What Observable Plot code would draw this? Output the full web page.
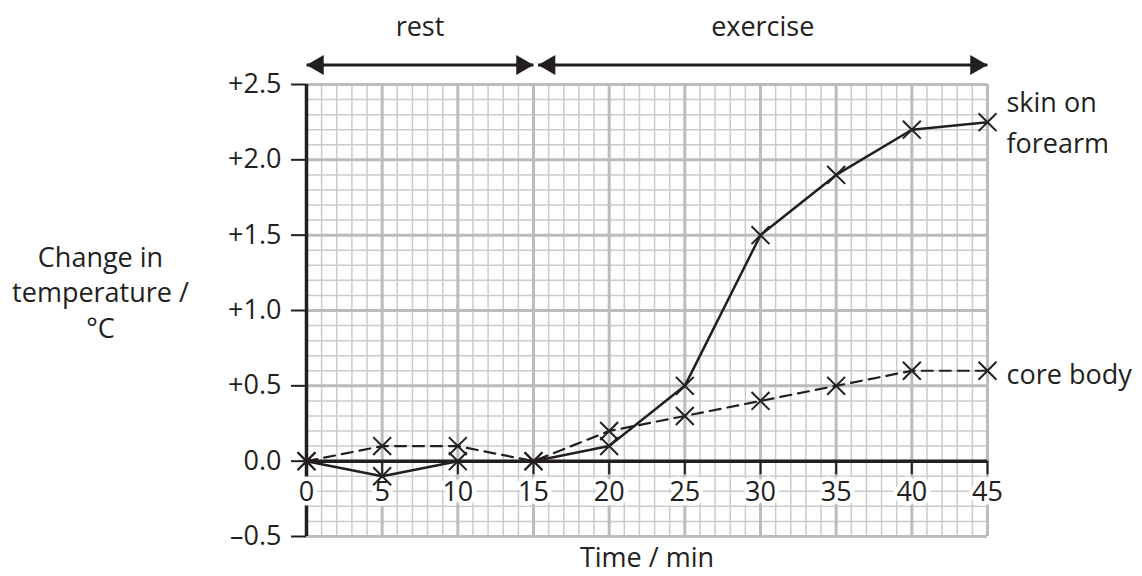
<!DOCTYPE html>
<html>
<head>
<meta charset="utf-8">
<script src="https://cdn.jsdelivr.net/npm/d3@7"></script>
<script src="https://cdn.jsdelivr.net/npm/@observablehq/plot@0.6"></script>
<style>
  html, body { margin: 0; padding: 0; background: #fff; }
  #chart svg { display: block; }
</style>
</head>
<body>
<div id="chart"></div>
<script>
// ---- data ----
const time = [0, 5, 10, 15, 20, 25, 30, 35, 40, 45];
const skin = [0, -0.1, 0, 0, 0.1, 0.5, 1.5, 1.9, 2.2, 2.25];
const core = [0, 0.1, 0.1, 0, 0.2, 0.3, 0.4, 0.5, 0.6, 0.6];
const xTicks = [0, 5, 10, 15, 20, 25, 30, 35, 40, 45];
const yTicks = [-0.5, 0, 0.5, 1.0, 1.5, 2.0, 2.5];
const yTickLabels = ["\u20130.5", "0.0", "+0.5", "+1.0", "+1.5", "+2.0", "+2.5"];
const phases = [
  {name: "rest", start: 0, end: 15},
  {name: "exercise", start: 15.3, end: 45}
];
const seriesLabels = [
  {name: "skin on\nforearm", x: 45, y: 2.27},
  {name: "core body", x: 45, y: 0.6}
];

const skinData = time.map((t, i) => ({t, v: skin[i]}));
const coreData = time.map((t, i) => ({t, v: core[i]}));

const minorX = d3.range(0, 46, 1);
const minorY = d3.range(-5, 26, 1).map(d => d / 10);
const majorX = d3.range(0, 46, 5);
const majorY = d3.range(-5, 26, 5).map(d => d / 10);

const arrowY = 2.63;
const font = "Open Sans";
const fs = 27;

const chart = Plot.plot({
  width: 1142,
  height: 576,
  marginLeft: 306,
  marginRight: 155,
  marginTop: 84,
  marginBottom: 40,
  style: {fontFamily: font, fontSize: fs + "px", color: "#231f20", background: "white"},
  x: {domain: [0, 45], axis: null},
  y: {domain: [-0.5, 2.5], axis: null},
  marks: [
    // grid
    Plot.ruleX(minorX, {stroke: "#cbcbcb", strokeWidth: 1.5, y1: -0.5, y2: 2.5}),
    Plot.ruleY(minorY, {stroke: "#cbcbcb", strokeWidth: 1.5, x1: 0, x2: 45}),
    Plot.ruleX(majorX, {stroke: "#bcbcbc", strokeWidth: 3, y1: -0.5, y2: 2.5}),
    Plot.ruleY(majorY, {stroke: "#bcbcbc", strokeWidth: 3, x1: 0, x2: 45}),
    // y axis
    Plot.axisY(yTicks, {
      tickSize: 15, tickPadding: 10, strokeWidth: 2, stroke: "#231f20",
      tickFormat: (d) => yTickLabels[yTicks.indexOf(d)],
      fontSize: fs, fill: "#231f20", label: null
    }),
    Plot.ruleX([0], {y1: -0.5, y2: 2.5, stroke: "#231f20", strokeWidth: 3.5}),
    // x axis along zero
    Plot.ruleY([0], {x1: 0, x2: 45, stroke: "#231f20", strokeWidth: 3.5}),
    Plot.ruleX(xTicks, {y1: 0, y2: -0.09, stroke: "#231f20", strokeWidth: 2}),
    Plot.text(xTicks, {x: d => d, y: 0, dy: 31, text: d => String(d), fontSize: fs,
      fill: "#231f20", stroke: "white", strokeWidth: 9}),
    // data
    Plot.line(coreData, {x: "t", y: "v", stroke: "#231f20", strokeWidth: 2.2, strokeDasharray: "11,7"}),
    Plot.line(skinData, {x: "t", y: "v", stroke: "#231f20", strokeWidth: 2.5}),
    Plot.dot(coreData, {x: "t", y: "v", symbol: "times", r: 8.2, stroke: "#231f20", strokeWidth: 2}),
    Plot.dot(skinData, {x: "t", y: "v", symbol: "times", r: 8.2, stroke: "#231f20", strokeWidth: 2}),
    // phase arrows
    Plot.link(phases, {x1: "start", x2: "end", y1: arrowY, y2: arrowY, stroke: "#231f20", strokeWidth: 3, clip: false}),
    Plot.dot(phases, {x: "start", y: arrowY, dx: 11.5, symbol: "triangle", rotate: -90, r: 7.4, fill: "#231f20", stroke: "none"}),
    Plot.dot(phases, {x: "end", y: arrowY, dx: -11.5, symbol: "triangle", rotate: 90, r: 7.4, fill: "#231f20", stroke: "none"}),
    Plot.text(phases, {x: d => (d.start + d.end) / 2, y: 2.88, text: "name", fontSize: fs, fill: "#231f20"}),
    // series labels
    Plot.text(seriesLabels, {x: "x", y: "y", text: "name", textAnchor: "start", dx: 19, fontSize: fs, lineHeight: 1.52, fill: "#231f20"}),
    // axis titles
    Plot.text(["Change in\ntemperature /\n\u00B0C"], {frameAnchor: "left", dx: -206, y: 1.13, textAnchor: "middle", fontSize: fs, lineHeight: 1.33, fill: "#231f20"}),
    Plot.text(["Time / min"], {x: 22.5, y: -0.5, dy: 22, fontSize: fs, fill: "#231f20"})
  ]
});
document.getElementById("chart").appendChild(chart);
</script>
</body>
</html>
